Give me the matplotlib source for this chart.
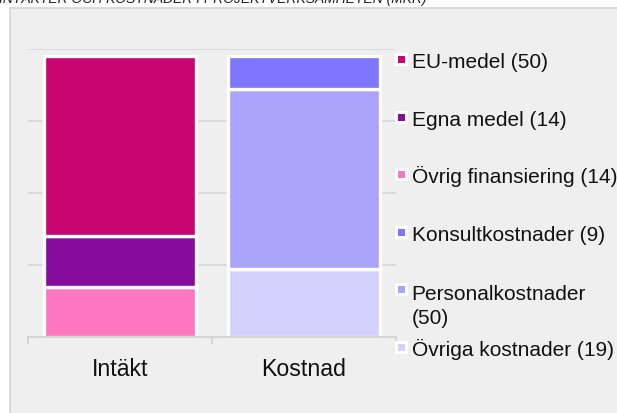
import matplotlib
matplotlib.use("Agg")
import matplotlib.pyplot as plt
from matplotlib.patches import Rectangle
import numpy as np

plt.rcParams['font.family'] = ['Liberation Sans', 'DejaVu Sans']

# ---- data ----
categories = ["Intäkt", "Kostnad"]
series_names = ["EU-medel", "Egna medel", "Övrig finansiering",
                "Konsultkostnader", "Personalkostnader", "Övriga kostnader"]
# values per series for [Intäkt, Kostnad]
series_values = {
    "Övrig finansiering": [14, 0],
    "Egna medel": [14, 0],
    "EU-medel": [50, 0],
    "Övriga kostnader": [0, 19],
    "Personalkostnader": [0, 50],
    "Konsultkostnader": [0, 9],
}
stack_order = ["Övrig finansiering", "Egna medel", "EU-medel",
               "Övriga kostnader", "Personalkostnader", "Konsultkostnader"]
legend_totals = [50, 14, 14, 9, 50, 19]
colors = {
    "EU-medel": "#c80571",
    "Egna medel": "#870b9d",
    "Övrig finansiering": "#fc77c0",
    "Konsultkostnader": "#7e77fe",
    "Personalkostnader": "#aaa4fd",
    "Övriga kostnader": "#d4d1fe",
}
title = "INTÄKTER OCH KOSTNADER I PROJEKTVERKSAMHETEN (MKR)"
y_ticks = [20, 40, 60, 80]

W, H = 617, 414
fig = plt.figure(figsize=(W / 100, H / 100), dpi=100)
fig.patch.set_facecolor("white")

def fx(px):
    return px / W

def fy(py):
    return 1 - py / H

# gray panel
panel = Rectangle((fx(9.5), -0.05), 1.2, fy(8.5) + 0.05, transform=fig.transFigure,
                  facecolor="#efefef", edgecolor="#d8d8d8", linewidth=1.3, zorder=-5)
fig.patches.append(panel)

# title (clipped at top, as in the source image)
fig.text(fx(-1), fy(3.5), title, fontsize=10, style="italic", color="#222222",
         ha="left", va="baseline")

ax = fig.add_axes([fx(28), fy(338), fx(396) - fx(28), fy(50) - fy(338)])
ax.set_facecolor("none")
ax.set_xlim(-0.5, 1.5)
ax.set_ylim(0, 80)

x = np.arange(len(categories))
bottom = np.zeros(len(categories))
for name in stack_order:
    vals = np.array(series_values[name], dtype=float)
    mask = vals > 0
    ax.bar(x[mask], vals[mask], bottom=bottom[mask], width=0.83,
           color=colors[name], edgecolor="white", linewidth=2.4, zorder=3)
    bottom += vals

# grid
ax.set_yticks(y_ticks)
ax.yaxis.grid(True, color="#d9d9d9", linewidth=1.3, zorder=0)
ax.tick_params(axis="y", left=False, labelleft=False)
for s in ["left", "right", "top"]:
    ax.spines[s].set_visible(False)
ax.spines["bottom"].set_color("#d3d3d3")
ax.spines["bottom"].set_linewidth(1.3)
ax.spines["bottom"].set_zorder(4)

ax.set_xticks([-0.5, 0.5, 1.5])
ax.set_xticklabels([])
ax.tick_params(axis="x", which="major", direction="out", length=5,
               width=1.3, color="#d3d3d3")
ax.set_xticks(x, minor=True)
ax.set_xticklabels(categories, minor=True, fontsize=16.7, color="#111111")
ax.tick_params(axis="x", which="minor", length=0, pad=14.5)

# legend (manual slots)
slot_y = [60.7, 118.2, 175.7, 233.2, 290.6, 348.2]
for name, tot, yy in zip(series_names, legend_totals, slot_y):
    fig.patches.append(Rectangle((fx(394.5), fy(yy + 6.5)), 13 / W, 13 / H,
                                 transform=fig.transFigure, facecolor="white",
                                 edgecolor="none", zorder=5))
    fig.patches.append(Rectangle((fx(397.5), fy(yy + 3.5)), 7 / W, 7 / H,
                                 transform=fig.transFigure, facecolor=colors[name],
                                 edgecolor="none", zorder=6))
    label = f"{name} ({tot})"
    base = yy + 7.6
    if name == "Personalkostnader":
        label = f"{name}\n({tot})"
        base += 26
    fig.text(fx(411.5), fy(base), label, fontsize=15, color="#111111",
             ha="left", va="baseline", linespacing=1.38, zorder=7)

fig.savefig("out.png", dpi=100)
